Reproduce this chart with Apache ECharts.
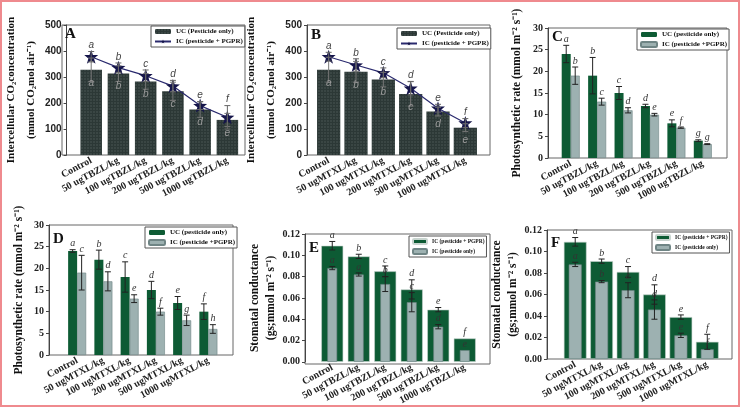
<!DOCTYPE html>
<html><head><meta charset="utf-8">
<script src="https://cdn.jsdelivr.net/npm/echarts@6/dist/echarts.min.js"></script>
<style>html,body{margin:0;padding:0;background:#fff}#c{width:740px;height:407px}</style>
</head><body><div id="c"></div>
<script>
const catsTBZL = ['Control','50 ugTBZL/kg','100 ugTBZL/kg','200 ugTBZL/kg','500 ugTBZL/kg','1000 ugTBZL/kg'];
const catsMTXL = ['Control','50 ugMTXL/kg','100 ugMTXL/kg','200 ugMTXL/kg','500 ugMTXL/kg','1000 ugMTXL/kg'];

// Panel A
const aUC = [328, 313, 283, 245, 175, 135];
const aUCErr = [45, 30, 30, 35, 30, 25];
const aUCLet = ['a','b','b','c','d','e'];
const aIC = [378, 336, 305, 265, 190, 145];
const aICErr = [20, 18, 22, 22, 15, 45];
const aICLet = ['a','b','c','d','e','f'];
// Panel B
const bUC = [328, 320, 290, 235, 167, 105];
const bUCErr = [48, 40, 28, 47, 17, 15];
const bUCLet = ['a','b','b','c','d','e'];
const bIC = [378, 346, 316, 257, 180, 123];
const bICErr = [17, 24, 19, 26, 15, 17];
const bICLet = ['a','b','c','d','e','f'];
// Panel C
const cUC = [24, 19, 15, 12, 8, 4];
const cUCErr = [2, 4.2, 1.5, 0.4, 0.8, 0.2];
const cUCLet = ['a','b','c','d','e','g'];
const cIC = [19, 13, 11, 10, 7, 3.2];
const cICErr = [2, 0.8, 0.6, 0.3, 0.15, 0.1];
const cICLet = ['b','c','d','e','f','g'];
// Panel D
const dUC = [24, 22, 18, 15, 12, 10];
const dUCErr = [0.3, 2.2, 3.5, 2, 1.5, 1.8];
const dUCLet = ['a','b','c','d','e','f'];
const dIC = [19, 17, 13, 10, 8, 6];
const dICErr = [4, 2.2, 0.9, 0.8, 1.2, 1];
const dICLet = ['c','d','e','f','g','h'];
// Panel E
const eIC = [0.109, 0.099, 0.085, 0.068, 0.049, 0.022];
const eICErr = [0.004, 0.002, 0.005, 0.009, 0.002, 0];
const eICLet = ['a','b','c','d','e','f'];
const eUC = [0.088, 0.082, 0.073, 0.056, 0.033, 0.011];
const eUCErr = [0.0015, 0.0015, 0.007, 0.009, 0.002, 0];
const eUCLet = ['a','a','b','c','d','e'];
// Panel F
const fIC = [0.109, 0.091, 0.081, 0.060, 0.039, 0.016];
const fICErr = [0.004, 0.002, 0.005, 0.009, 0.002, 0.007];
const fICLet = ['a','b','c','d','e','f'];
const fUC = [0.088, 0.072, 0.064, 0.046, 0.022, 0.009];
const fUCErr = [0.002, 0.001, 0.007, 0.009, 0.002, 0];
const fUCLet = ['a','b','c','d','e','f'];

const SERIF = '"Liberation Serif","Times New Roman",serif';
const SANS = '"Liberation Sans",Arial,sans-serif';
const GREEN = '#0d5b34';
const GRAY = '#9db1b1';
const BARDARK = '#2c3836';
const NAVY = '#2a2a6e';
const STAR = 'path://M0,-10L2.35,-3.24L9.51,-3.09L3.8,1.24L5.88,8.09L0,4L-5.88,8.09L-3.8,1.24L-9.51,-3.09L-2.35,-3.24Z';

// frame boxes (visible) and data bands (category area, inset from the frame)
const frames = [
  {left: 62, top: 25, width: 183, height: 130},
  {left: 307, top: 25, width: 183, height: 130},
  {left: 548, top: 28, width: 179, height: 130},
  {left: 49, top: 225, width: 184, height: 130},
  {left: 305, top: 234, width: 185, height: 130},
  {left: 547, top: 230, width: 185, height: 129}
].map(g => Object.assign({show: true, borderColor: '#666', borderWidth: 1, backgroundColor: 'transparent'}, g));
const bands = [
  {left: 73, top: 25, width: 168, height: 130},
  {left: 315, top: 25, width: 164, height: 130},
  {left: 557.5, top: 28, width: 158.5, height: 130},
  {left: 64, top: 225, width: 157.5, height: 130},
  {left: 319, top: 234, width: 159, height: 130},
  {left: 562, top: 230, width: 158.5, height: 129}
].map(g => Object.assign({show: false}, g));
const yOff = frames.map((f, i) => bands[i].left - f.left);

function xAx(gi, cats, hidden) {
  return {
    type: 'category', gridIndex: gi + 6, data: cats, show: !hidden,
    axisLine: {show: false}, axisTick: {show: false},
    axisLabel: {interval: 0, rotate: 28, fontFamily: SERIF, fontWeight: 'bold', fontSize: 10, color: '#222', margin: 5}
  };
}
function yAx(gi, max, interval, name, gap, fam, dec, fs, lh) {
  return {
    type: 'value', gridIndex: gi + 6, min: 0, max: max, interval: interval, offset: yOff[gi],
    name: name, nameLocation: 'middle', nameGap: gap, nameRotate: 90,
    nameTextStyle: {fontFamily: SERIF, fontWeight: 'bold', fontSize: fs, color: '#111', lineHeight: lh},
    axisLine: {show: true, lineStyle: {color: '#444'}},
    axisTick: {show: true, length: 3, lineStyle: {color: '#444'}},
    splitLine: {show: false},
    axisLabel: {fontFamily: fam, fontWeight: 'bold', fontSize: 10, color: '#222', margin: 5,
      formatter: v => dec ? v.toFixed(dec) : String(v)}
  };
}

function errSeries(xi, yi, vals, errs, lets, opt) {
  return {
    type: 'custom', xAxisIndex: xi, yAxisIndex: yi, z: 10, silent: true,
    encode: {x: 0, y: 1},
    data: vals.map((v, i) => [i, v, errs[i]]),
    renderItem: function (params, api) {
      const i = api.value(0), v = api.value(1), e = api.value(2);
      const c = api.coord([i, v]);
      const x = c[0] + (opt.dx || 0);
      const top = api.coord([i, v + e])[1];
      const bot = api.coord([i, v - e])[1];
      const ch = [];
      const st = {stroke: opt.errColor || '#222', lineWidth: 1};
      if (e > 0) {
        ch.push({type: 'line', shape: {x1: x, y1: top, x2: x, y2: bot}, style: st});
        ch.push({type: 'line', shape: {x1: x - 3, y1: top, x2: x + 3, y2: top}, style: st});
        ch.push({type: 'line', shape: {x1: x - 3, y1: bot, x2: x + 3, y2: bot}, style: st});
      }
      let ly;
      if (opt.inside != null) ly = api.coord([i, v - opt.inside])[1];
      else ly = top - 1;
      ch.push({type: 'text', x: x, y: ly, style: {
        text: lets[params.dataIndex], fill: opt.letColor || '#333',
        font: 'italic ' + (opt.fs || 10) + 'px ' + (opt.fam || SERIF),
        align: 'center', verticalAlign: opt.inside != null ? 'middle' : 'bottom'}});
      return {type: 'group', children: ch};
    }
  };
}

const decal = {symbol: 'rect', symbolSize: 0.5, color: 'rgba(255,255,255,0.28)', dashArrayX: [2, 1], dashArrayY: [2, 1], rotation: 0};

const series = [
  // A
  {name: 'UC (Pesticide only)', type: 'bar', xAxisIndex: 0, yAxisIndex: 0, data: aUC, barWidth: '79%',
    itemStyle: {color: BARDARK, decal: decal}},
  errSeries(0, 0, aUC, aUCErr, aUCLet, {inside: 50, letColor: '#9a9a9a', fam: SANS, fs: 10, errColor: '#777'}),
  {name: 'IC (pesticide + PGPR)', type: 'line', xAxisIndex: 0, yAxisIndex: 0, data: aIC, z: 5,
    symbol: STAR, symbolSize: 14, lineStyle: {color: NAVY, width: 1.2}, itemStyle: {color: '#15154a'}},
  errSeries(0, 0, aIC, aICErr, aICLet, {letColor: '#444', fam: SANS, fs: 10, errColor: '#666'}),
  // B
  {name: 'UC (Pesticide only)', type: 'bar', xAxisIndex: 1, yAxisIndex: 1, data: bUC, barWidth: '85%',
    itemStyle: {color: BARDARK, decal: decal}},
  errSeries(1, 1, bUC, bUCErr, bUCLet, {inside: 50, letColor: '#9a9a9a', fam: SANS, fs: 10, errColor: '#777'}),
  {name: 'IC (pesticide + PGPR)', type: 'line', xAxisIndex: 1, yAxisIndex: 1, data: bIC, z: 5,
    symbol: STAR, symbolSize: 14, lineStyle: {color: NAVY, width: 1.2}, itemStyle: {color: '#15154a'}},
  errSeries(1, 1, bIC, bICErr, bICLet, {letColor: '#444', fam: SANS, fs: 10, errColor: '#666'}),
  // C
  {name: 'UC (pesticide only)', type: 'bar', xAxisIndex: 2, yAxisIndex: 2, data: cUC, barWidth: 9, barGap: '0%',
    itemStyle: {color: GREEN}},
  {name: 'IC (pesticide +PGPR)', type: 'bar', xAxisIndex: 2, yAxisIndex: 2, data: cIC, barWidth: 9, barGap: '0%',
    itemStyle: {color: GRAY, borderColor: '#6f8585', borderWidth: 0.6}},
  errSeries(2, 2, cUC, cUCErr, cUCLet, {dx: -4.5}),
  errSeries(2, 2, cIC, cICErr, cICLet, {dx: 4.5}),
  // D
  {name: 'UC (pesticide only)', type: 'bar', xAxisIndex: 3, yAxisIndex: 3, data: dUC, barWidth: 9, barGap: '0%',
    itemStyle: {color: GREEN}},
  {name: 'IC (pesticide +PGPR)', type: 'bar', xAxisIndex: 3, yAxisIndex: 3, data: dIC, barWidth: 9, barGap: '0%',
    itemStyle: {color: GRAY, borderColor: '#6f8585', borderWidth: 0.6}},
  errSeries(3, 3, dUC, dUCErr, dUCLet, {dx: -4.5}),
  errSeries(3, 3, dIC, dICErr, dICLet, {dx: 4.5}),
  // E
  {name: 'IC (pesticide + PGPR)\u200b', type: 'bar', xAxisIndex: 4, yAxisIndex: 4, data: eIC, barWidth: '83%',
    itemStyle: {color: GREEN, borderColor: '#c8d4cf', borderWidth: 0.6}},
  {name: 'IC (pesticide only)', type: 'bar', xAxisIndex: 5, yAxisIndex: 4, data: eUC, barWidth: '37%', z: 3,
    itemStyle: {color: GRAY, borderColor: '#6f8585', borderWidth: 0.6}},
  errSeries(4, 4, eIC, eICErr, eICLet, {}),
  errSeries(5, 4, eUC, eUCErr, eUCLet, {}),
  // F
  {name: 'IC (pesticide + PGPR)\u200b', type: 'bar', xAxisIndex: 6, yAxisIndex: 5, data: fIC, barWidth: '86%',
    itemStyle: {color: GREEN, borderColor: '#c8d4cf', borderWidth: 0.6}},
  {name: 'IC (pesticide only)', type: 'bar', xAxisIndex: 7, yAxisIndex: 5, data: fUC, barWidth: '49%', z: 3,
    itemStyle: {color: GRAY, borderColor: '#6f8585', borderWidth: 0.6}},
  errSeries(6, 5, fIC, fICErr, fICLet, {}),
  errSeries(7, 5, fUC, fUCErr, fUCLet, {})
];

function leg(data, left, top, fs, iw) {
  return {
    data: data, left: left, top: top, orient: 'vertical', itemGap: 3, itemWidth: iw || 16, itemHeight: 5,
    backgroundColor: '#fff', borderColor: '#555', borderWidth: 1, padding: [2, 2, 2, 3], selectedMode: false,
    textStyle: {fontFamily: SERIF, fontWeight: 'bold', fontSize: fs, color: '#111'}
  };
}

const option = {
  animation: false,
  backgroundColor: '#fff',
  grid: frames.concat(bands),
  xAxis: [xAx(0, catsTBZL), xAx(1, catsMTXL), xAx(2, catsTBZL), xAx(3, catsMTXL),
          xAx(4, catsTBZL), xAx(4, catsTBZL, true), xAx(5, catsMTXL), xAx(5, catsMTXL, true)],
  yAxis: [
    yAx(0, 500, 100, 'Intercellular CO\u2082concentration\n(mmol CO\u2082mol air\u207B\u00B9)', 22, SANS, 0, 11, 20),
    yAx(1, 500, 100, 'Intercellular CO\u2082concentration\n(mmol CO\u2082mol air\u207B\u00B9)', 25, SANS, 0, 11, 20),
    yAx(2, 30, 5, 'Photosynthetic rate (mmol m\u207B\u00B2 s\u207B\u00B9)', 24, SERIF, 0, 11.5, 14),
    yAx(3, 30, 5, 'Photosynthetic rate (mmol m\u207B\u00B2 s\u207B\u00B9)', 23, SERIF, 0, 11.5, 14),
    yAx(4, 0.12, 0.02, 'Stomatal conductance\n(gs;mmol m\u207B\u00B2 s\u207B\u00B9)', 25, SERIF, 2, 11.5, 16),
    yAx(5, 0.12, 0.02, 'Stomatal conductance\n(gs;mmol m\u207B\u00B2 s\u207B\u00B9)', 25, SERIF, 2, 11.5, 16)
  ],
  legend: [
    leg(['UC (Pesticide only)', 'IC (pesticide + PGPR)'], 151, 26, 7),
    leg(['UC (Pesticide only)', 'IC (pesticide + PGPR)'], 397, 28, 7),
    leg(['UC (pesticide only)', 'IC (pesticide +PGPR)'], 637, 29, 7),
    leg(['UC (pesticide only)', 'IC (pesticide +PGPR)'], 145, 227, 7),
    leg(['IC (pesticide + PGPR)\u200b', 'IC (pesticide only)'], 409, 236, 5.5, 14),
    leg(['IC (pesticide + PGPR)\u200b', 'IC (pesticide only)'], 652, 232, 5.5, 14)
  ],
  title: [
    {text: 'A', left: 65, top: 27},
    {text: 'B', left: 311, top: 28},
    {text: 'C', left: 552, top: 30},
    {text: 'D', left: 53, top: 232},
    {text: 'E', left: 309, top: 241},
    {text: 'F', left: 551, top: 236}
  ].map(t => Object.assign({padding: 0, textStyle: {fontFamily: SERIF, fontWeight: 'bold', fontSize: 15, color: '#111'}}, t)),
  graphic: [{type: 'rect', shape: {x: 1, y: 1, width: 738, height: 405}, style: {fill: 'none', stroke: '#ef8a8e', lineWidth: 2}, z: 100}],
  series: series
};

const chart = echarts.init(document.getElementById('c'), null, {renderer: 'canvas'});
chart.setOption(option);
</script>
</body></html>
